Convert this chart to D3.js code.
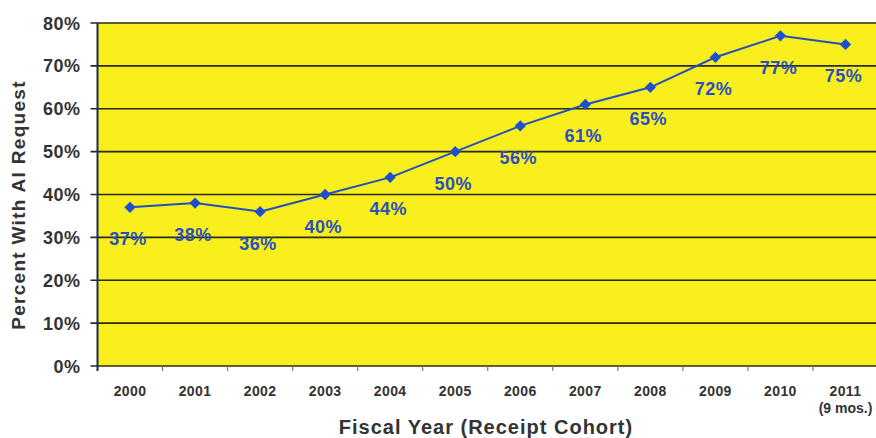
<!DOCTYPE html>
<html>
<head>
<meta charset="utf-8">
<script src="https://cdn.jsdelivr.net/npm/d3@7"></script>
<style>
body { margin: 0; background: #fff; }
svg { display: block; font-family: Arial, "Liberation Sans", sans-serif; }
</style>
</head>
<body>
<svg width="876" height="438"></svg>
<script>
var years = ["2000","2001","2002","2003","2004","2005","2006","2007","2008","2009","2010","2011"];
var pct = [37, 38, 36, 40, 44, 50, 56, 61, 65, 72, 77, 75];
var yTicks = [0, 10, 20, 30, 40, 50, 60, 70, 80];

var width = 876;
var height = 438;
var margin = ({top: 23, right: -2, bottom: 72, left: 97.5});

var svg = d3.select('svg');

var x = d3.scaleBand()
  .domain(years)
  .range([margin.left, width - margin.right]);

var y = d3.scaleLinear()
  .domain([0, 80])
  .range([height - margin.bottom, margin.top]);

var cx = d => x(d) + x.bandwidth() / 2;

// plot background
svg.append("rect")
  .attr("x", margin.left).attr("y", y(80))
  .attr("width", x.range()[1] - margin.left).attr("height", y(0) - y(80))
  .attr("fill", "#f8ef1c");

// gridlines
svg.append("g")
  .selectAll("line")
  .data(yTicks)
  .join("line")
  .attr("x1", margin.left - 7).attr("x2", x.range()[1])
  .attr("y1", d => y(d)).attr("y2", d => y(d))
  .attr("stroke", "#2b2a12").attr("stroke-width", 1.6);

// axes lines
svg.append("line")
  .attr("x1", margin.left).attr("x2", margin.left)
  .attr("y1", y(80)).attr("y2", y(0) + 5)
  .attr("stroke", "#1c2a55").attr("stroke-width", 2);
svg.append("line")
  .attr("x1", x.range()[1] - 1).attr("x2", x.range()[1] - 1)
  .attr("y1", y(80)).attr("y2", y(0))
  .attr("stroke", "#222").attr("stroke-width", 2);

// x tick marks between categories
svg.append("g")
  .selectAll("line")
  .data(years.slice(1))
  .join("line")
  .attr("x1", d => x(d)).attr("x2", d => x(d))
  .attr("y1", y(0)).attr("y2", y(0) + 5)
  .attr("stroke", "#777").attr("stroke-width", 1.2);

// y tick labels
svg.append("g")
  .selectAll("text")
  .data(yTicks)
  .join("text")
  .attr("x", margin.left - 17)
  .attr("y", d => y(d) + 6.5)
  .attr("text-anchor", "end")
  .attr("font-size", 18).attr("font-weight", "bold").attr("fill", "#333")
  .attr("letter-spacing", 0.5)
  .text(d => d + "%");

// x labels
svg.append("g")
  .selectAll("text")
  .data(years)
  .join("text")
  .attr("x", d => cx(d))
  .attr("y", y(0) + 30)
  .attr("text-anchor", "middle")
  .attr("font-size", 14).attr("font-weight", "bold").attr("fill", "#333")
  .attr("letter-spacing", 0.4)
  .text(d => d);

svg.append("text")
  .attr("x", cx("2011"))
  .attr("y", y(0) + 47)
  .attr("text-anchor", "middle")
  .attr("font-size", 14).attr("font-weight", "bold").attr("fill", "#333")
  .text("(9 mos.)");

// axis titles
svg.append("text")
  .attr("x", 486).attr("y", 434)
  .attr("text-anchor", "middle")
  .attr("font-size", 20).attr("font-weight", "bold").attr("fill", "#333")
  .attr("letter-spacing", 1)
  .text("Fiscal Year (Receipt Cohort)");

svg.append("text")
  .attr("transform", "translate(25,205) rotate(-90)")
  .attr("text-anchor", "middle")
  .attr("font-size", 19).attr("font-weight", "bold").attr("fill", "#333")
  .attr("letter-spacing", 1.3)
  .text("Percent With AI Request");

// series line
var line = d3.line()
  .x((d, i) => cx(years[i]))
  .y(d => y(d));

svg.append("path")
  .datum(pct)
  .attr("d", line)
  .attr("fill", "none")
  .attr("stroke", "#2350c0").attr("stroke-width", 2);

svg.append("g")
  .selectAll("path")
  .data(pct)
  .join("path")
  .attr("d", d3.symbol().type(d3.symbolSquare).size(64))
  .attr("transform", (d, i) => "translate(" + cx(years[i]) + "," + y(d) + ") rotate(45)")
  .attr("fill", "#1f4fd0");

// data labels
svg.append("g")
  .selectAll("text")
  .data(pct)
  .join("text")
  .attr("x", (d, i) => cx(years[i]) - 2)
  .attr("y", d => y(d) + 38)
  .attr("text-anchor", "middle")
  .attr("font-size", 18).attr("font-weight", "bold").attr("fill", "#2a4fc0")
  .attr("letter-spacing", 0.5)
  .text(d => d + "%");
</script>
</body>
</html>
